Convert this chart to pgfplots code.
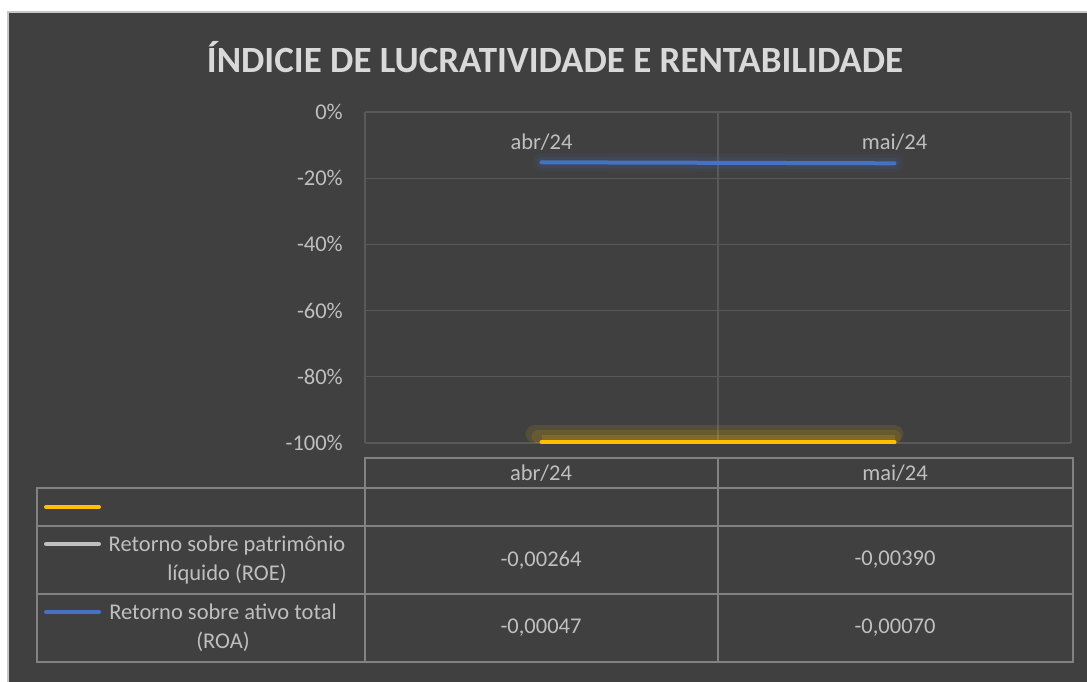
\documentclass[border=0pt]{standalone}
\usepackage{pgfplots}
\pgfplotsset{compat=1.18}
\usepackage{fontspec}
\setmainfont{Carlito}
\definecolor{bg}{HTML}{404040}
\definecolor{gridc}{HTML}{595959}
\definecolor{tline}{HTML}{828282}
\definecolor{txt}{HTML}{BFBFBF}
\definecolor{ttl}{HTML}{D9D9D9}
\definecolor{roa}{HTML}{4472C4}
\definecolor{roe}{HTML}{BFBFBF}
\definecolor{sthree}{HTML}{FFC000}
\definecolor{frame}{HTML}{C8C8C8}
\newcommand{\tf}{\fontsize{22.5}{29}\selectfont}
\begin{document}
\begin{tikzpicture}
\useasboundingbox (0,0) rectangle (1087pt,-682pt);
\fill[white] (0,0) rectangle (1087pt,-682pt);
\fill[bg] (8pt,-12pt) rectangle (1087pt,-682pt);
\draw[frame, line width=1.5pt] (8pt,-682pt) -- (8pt,-12pt) -- (1087pt,-12pt);
% title
\node[anchor=base, text=ttl, inner sep=0pt] at (555pt,-73pt) {\fontsize{37}{42}\selectfont\bfseries ÍNDICIE DE LUCRATIVIDADE E RENTABILIDADE};
\begin{axis}[
  at={(365pt,-112pt)}, anchor=north west,
  width=706pt, height=331pt, scale only axis,
  xmin=-0.5, xmax=1.5, ymin=-1, ymax=0,
  xtick={-0.5,0.5,1.5}, xticklabels={}, xmajorgrids,
  ytick={-1,-0.8,-0.6,-0.4,-0.2,0},
  yticklabels={-100\%,-80\%,-60\%,-40\%,-20\%,0\%},
  ymajorgrids,
  grid style={gridc, line width=1.3pt},
  axis line style={draw=none},
  major tick length=0pt,
  tick style={draw=none},
  yticklabel style={font=\tf, text=txt, anchor=east, inner sep=0pt, xshift=-22pt},
  clip=false,
]
% glows
\addplot[roa, line width=18pt, opacity=0.07, line cap=round] coordinates {(0,-0.152) (1,-0.155)};
\addplot[roa, line width=11pt, opacity=0.12, line cap=round] coordinates {(0,-0.152) (1,-0.155)};
\addplot[sthree, line width=18pt, opacity=0.10, yshift=9pt, line cap=round] coordinates {(-0.02,-1) (1,-1)};
\addplot[sthree, line width=13pt, opacity=0.12, yshift=6.5pt, line cap=round] coordinates {(-0.01,-1) (1,-1)};
\addplot[sthree, line width=8pt, opacity=0.16, yshift=4pt] coordinates {(0,-1) (1,-1)};
% series
\addplot[roa, line width=4pt, line cap=round] coordinates {(0,-0.152) (1,-0.155)};
\addplot[sthree, line width=4pt, line cap=round] coordinates {(0,-0.998) (1,-0.998)};
\node[text=txt, font=\tf, inner sep=0pt] at (axis cs:0,-0.09) {abr/24};
\node[text=txt, font=\tf, inner sep=0pt] at (axis cs:1,-0.09) {mai/24};
\end{axis}
% data table
\begin{scope}[tline, line width=2pt]
\draw (365pt,-488pt) -- (365pt,-458pt) -- (1073pt,-458pt) -- (1073pt,-662pt);
\draw (718pt,-458pt) -- (718pt,-662pt);
\draw (365pt,-488pt) -- (365pt,-662pt);
\draw (37pt,-488pt) rectangle (1073pt,-662pt);
\draw (37pt,-526pt) -- (1073pt,-526pt);
\draw (37pt,-594pt) -- (1073pt,-594pt);
\end{scope}
\begin{scope}[every node/.style={text=txt, font=\tf, inner sep=0pt}]
\node at (541pt,-473pt) {abr/24};
\node at (895pt,-473pt) {mai/24};
\draw[sthree, line width=4pt, line cap=round] (46pt,-507pt) -- (99pt,-507pt);
\draw[roe, line width=4pt, line cap=round] (46pt,-544pt) -- (99pt,-544pt);
\draw[roa, line width=4pt, line cap=round] (46pt,-612pt) -- (99pt,-612pt);
\node[align=center] at (227pt,-560pt) {Retorno sobre patrimônio\\líquido (ROE)};
\node[align=center] at (223pt,-628pt) {Retorno sobre ativo total\\(ROA)};
\node at (541pt,-560pt) {-0,00264};
\node at (895pt,-560pt) {-0,00390};
\node at (541pt,-628pt) {-0,00047};
\node at (895pt,-628pt) {-0,00070};
\end{scope}
\end{tikzpicture}
\end{document}
